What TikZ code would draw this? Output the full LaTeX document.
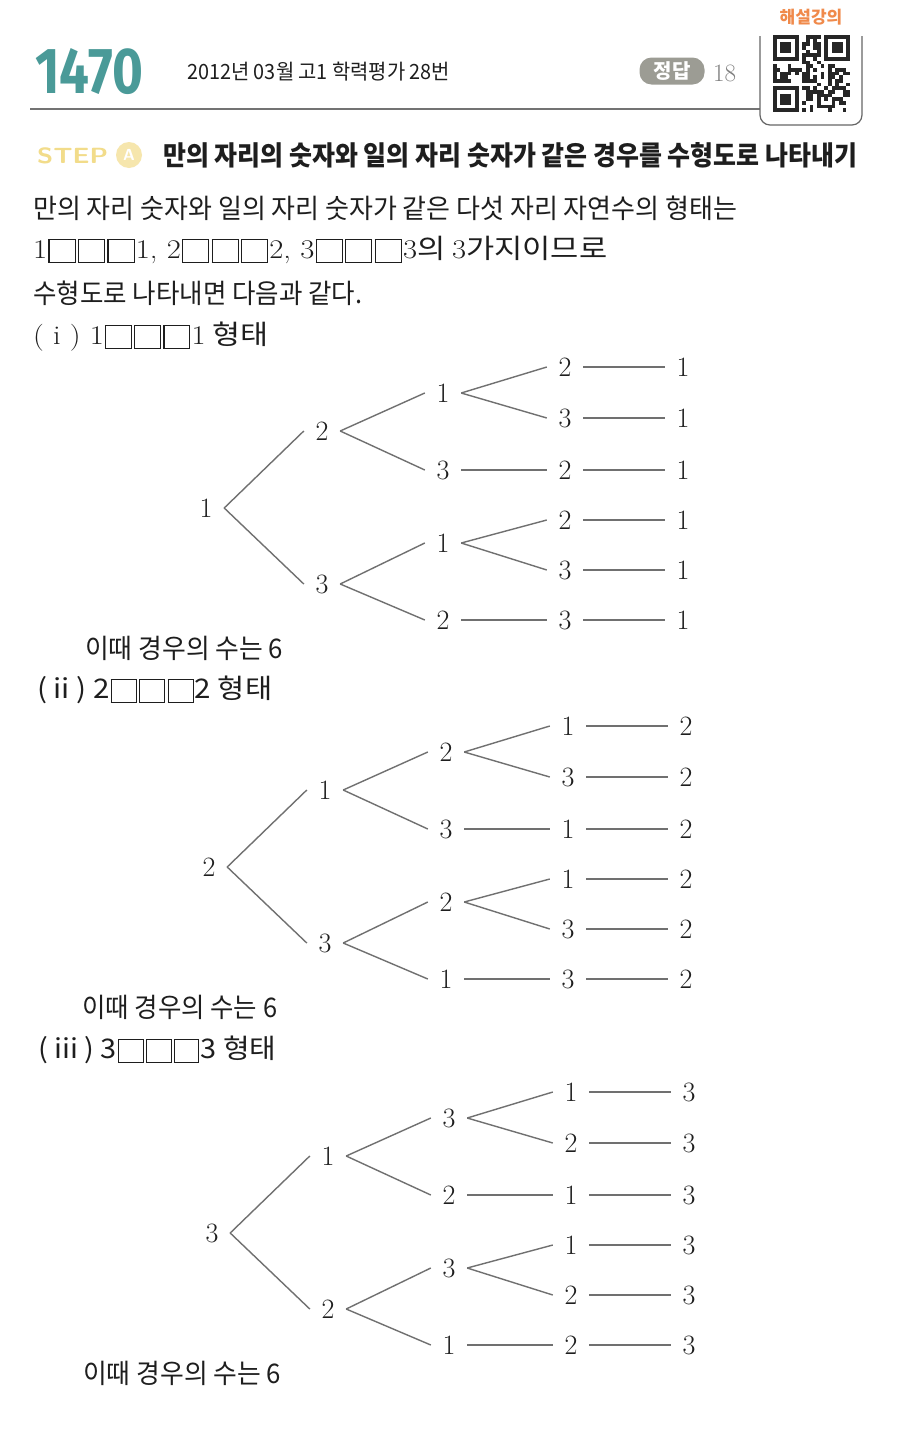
\documentclass[tikz,border=0pt]{standalone}
\usepackage{fontspec}
\newfontfamily\kr{Noto Sans CJK KR}
\newfontfamily\hd{Fira Sans}
\definecolor{teal1}{HTML}{4A9A98}
\definecolor{pill}{HTML}{9C9C94}
\definecolor{orng}{HTML}{F08A4B}
\definecolor{stepy}{HTML}{F2DC8A}
\definecolor{ln}{HTML}{707070}
\definecolor{ink}{HTML}{1E1E1E}
\newcommand\ebox{\kern1pt\raisebox{-3pt}{\setlength{\fboxsep}{0pt}\setlength{\fboxrule}{1pt}\fbox{\rule{0pt}{22pt}\rule{22pt}{0pt}}}\kern1pt}
\newcommand\mktree[6]{%
  \node[num] (#1r) at (0,0) {#2};
  \foreach \t [count=\i] in {#3} {
    \pgfmathsetmacro\yy{{-77,76}[\i-1]}
    \node[num] (#1a\i) at (116,\yy) {\t};
    \draw[br] (#1r.east) -- (#1a\i.west);
  }
  \foreach \t [count=\i] in {#4} {
    \pgfmathsetmacro\yy{{-115,-38,35,112}[\i-1]}
    \pgfmathtruncatemacro\p{ceil(\i/2)}
    \node[num] (#1b\i) at (237,\yy) {\t};
    \draw[br] (#1a\p.east) -- (#1b\i.west);
  }
  \foreach \t [count=\i] in {#5} {
    \pgfmathsetmacro\yy{{-141,-90,-38,12,62,112}[\i-1]}
    \pgfmathtruncatemacro\p{{1,1,2,3,3,4}[\i-1]}
    \node[num] (#1c\i) at (359,\yy) {\t};
    \draw[br] (#1b\p.east) -- (#1c\i.west);
    \node[num] (#1d\i) at (477,\yy) {#6};
    \draw[br] (#1c\i.east) -- (#1d\i.west);
  }
}
\begin{document}
\begin{tikzpicture}[x=1pt,y=-1pt,
  num/.style={font=\rmfamily\fontsize{28}{28}\selectfont, text=ink, minimum width=36pt, minimum height=20pt, inner sep=0pt},
  br/.style={draw=ln, line width=1.4pt},
  txt/.style={anchor=west, inner sep=0pt, text=ink, font=\kr\fontsize{27}{27}\selectfont}]
\useasboundingbox[fill=white] (0,0) rectangle (898,1446);

% ---------- header ----------
\node[anchor=west, inner sep=0pt, text=teal1] (pnum) at (35,72) {\resizebox{108pt}{45pt}{\hd\bfseries 1470}};
\node[anchor=west, inner sep=0pt, text=ink] (src) at (187,72) {\resizebox{263pt}{\height}{\kr\fontsize{21}{21}\selectfont 2012년 03월 고1 학력평가 28번}};
\node[fill=pill, rounded corners=12pt, minimum width=65pt, minimum height=27pt, inner sep=0pt, text=white, font=\kr\bfseries\fontsize{20}{20}\selectfont] (ans) at (672,71) {정답};
\node[anchor=west, inner sep=0pt, text=black!50, font=\rmfamily\fontsize{25}{25}\selectfont] (ansv) at (713,73) {18};
\node[text=orng, inner sep=0pt, font=\kr\bfseries\fontsize{17}{17}\selectfont] (lec) at (811,17) {해설강의};
\draw[line width=2pt, draw=black!55] (30,109) -- (760,109);
\draw[draw=black!60, line width=1.2pt, rounded corners=10pt] (760,36) -- (760,125) -- (862,125) -- (862,36);
\begin{scope}
\pgfmathsetseed{4242}
\foreach \i in {0,...,20}{
  \foreach \j in {0,...,20}{
    \pgfmathtruncatemacro\qin{((\i<8)&&(\j<8)) || ((\i>12)&&(\j<8)) || ((\i<8)&&(\j>12))}
    \pgfmathtruncatemacro\qon{rnd<0.56}
    \ifnum\qin=0 \ifnum\qon=1
      \fill[black!85] (773+\i*3.67, 35+\j*3.67) rectangle +(3.67,3.67);
    \fi\fi
  }
}
\foreach \ox/\oy in {0/0, 14/0, 0/14}{
  \fill[black!85] (773+\ox*3.67,35+\oy*3.67) rectangle +(25.69,25.69);
  \fill[white] (773+\ox*3.67+3.67,35+\oy*3.67+3.67) rectangle +(18.35,18.35);
  \fill[black!85] (773+\ox*3.67+7.34,35+\oy*3.67+7.34) rectangle +(11.01,11.01);
}
\end{scope}

% ---------- step heading ----------
\node[anchor=west, inner sep=0pt, text=stepy] (stp) at (37,156) {\resizebox{71pt}{\height}{\sffamily\bfseries\fontsize{22}{22}\selectfont STEP}};
\node[circle, fill=stepy!70, text=white, minimum size=26pt, inner sep=0pt, font=\sffamily\bfseries\fontsize{16}{16}\selectfont] (stpa) at (129,155) {A};
\node[anchor=west, inner sep=0pt, text=ink] (head) at (163,155) {\resizebox{694pt}{\height}{\kr\bfseries\fontsize{27}{27}\selectfont 만의 자리의 숫자와 일의 자리 숫자가 같은 경우를 수형도로 나타내기}};

% ---------- body text ----------
\node[txt] (l1) at (33,208) {\resizebox{704pt}{\height}{만의 자리 숫자와 일의 자리 숫자가 같은 다섯 자리 자연수의 형태는}};
\node[txt] (l2) at (33,250) {\resizebox{574pt}{\height}{{\rmfamily 1}\ebox\ebox\ebox{\rmfamily 1, 2}\ebox\ebox\ebox{\rmfamily 2, 3}\ebox\ebox\ebox{\rmfamily 3}의 {\rmfamily 3}가지이므로}};
\node[txt] (l3) at (33,293) {\resizebox{329pt}{\height}{수형도로 나타내면 다음과 같다.}};
\node[txt] (l4) at (33,337) {\resizebox{235pt}{\height}{{\rmfamily( i ) 1}\ebox\ebox\ebox{\rmfamily 1} 형태}};

\begin{scope}[shift={(206,508)}]
\mktree{p}{1}{2,3}{1,3,1,2}{2,3,2,2,3,3}{1}
\end{scope}

\node[txt] (c1) at (85,648) {\resizebox{198pt}{\height}{이때 경우의 수는 6}};
\node[txt] (l5) at (37,690) {\resizebox{235pt}{\height}{( ii ) 2\ebox\ebox\ebox 2 형태}};

\begin{scope}[shift={(209,867)}]
\mktree{q}{2}{1,3}{2,3,2,1}{1,3,1,1,3,3}{2}
\end{scope}

\node[txt] (c2) at (82,1007) {\resizebox{195pt}{\height}{이때 경우의 수는 6}};
\node[txt] (l6) at (38,1050) {\resizebox{238pt}{\height}{( iii ) 3\ebox\ebox\ebox 3 형태}};

\begin{scope}[shift={(212,1233)}]
\mktree{s}{3}{1,2}{3,2,3,1}{1,2,1,1,2,2}{3}
\end{scope}

\node[txt] (c3) at (83,1373) {\resizebox{198pt}{\height}{이때 경우의 수는 6}};
\end{tikzpicture}
\end{document}
